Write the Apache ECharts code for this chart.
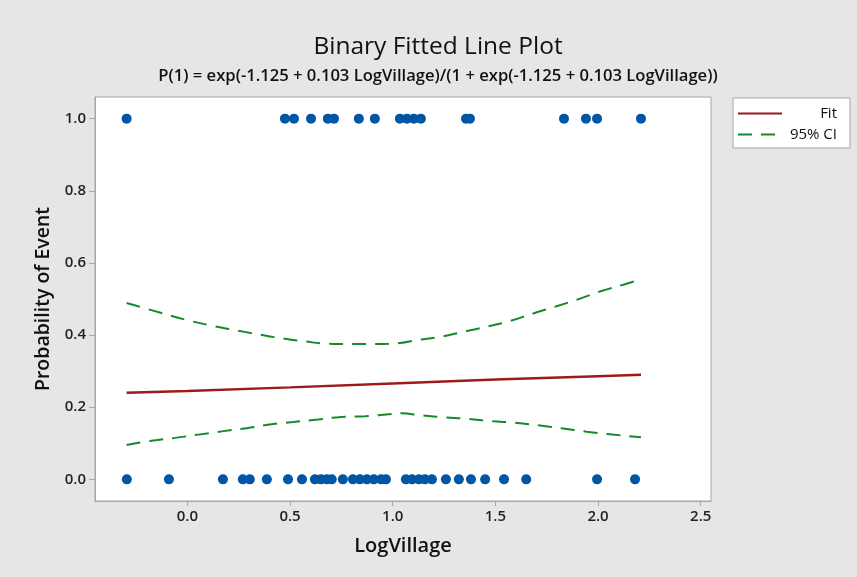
<!DOCTYPE html>
<html>
<head>
<meta charset="utf-8">
<script src="https://cdn.jsdelivr.net/npm/echarts@6/dist/echarts.min.js"></script>
<style>
html,body{margin:0;padding:0;background:#e6e6e6;}
#chart{width:857px;height:577px;}
</style>
</head>
<body>
<div id="chart"></div>
<script>
// LogVillage values of observations with event = 1
var eventX = [-0.296, 0.475, 0.519, 0.602, 0.684, 0.714, 0.835, 0.913, 1.035, 1.069, 1.103, 1.137, 1.357, 1.376, 1.834, 1.941, 1.995, 2.209];
// LogVillage values of observations with event = 0
var nonEventX = [-0.295, -0.090, 0.173, 0.270, 0.304, 0.387, 0.490, 0.558, 0.621, 0.650, 0.679, 0.703, 0.757, 0.806, 0.840, 0.874, 0.908, 0.943, 0.967, 1.064, 1.094, 1.128, 1.157, 1.191, 1.259, 1.322, 1.381, 1.450, 1.542, 1.650, 1.995, 2.180];
// Fitted line
var fitX = [-0.296, 0.0, 0.5, 1.0, 1.5, 2.0, 2.209];
var fitY = [0.240, 0.245, 0.255, 0.266, 0.277, 0.286, 0.290];
// 95% CI upper
var ciUpX = [-0.296, -0.126, -0.012, 0.11, 0.22, 0.337, 0.45, 0.564, 0.686, 0.80, 0.913, 1.035, 1.116, 1.23, 1.343, 1.457, 1.571, 1.684, 1.798, 1.912, 2.017, 2.131, 2.209];
var ciUpY = [0.489, 0.461, 0.443, 0.427, 0.415, 0.403, 0.392, 0.383, 0.376, 0.375, 0.375, 0.378, 0.386, 0.395, 0.409, 0.423, 0.439, 0.460, 0.480, 0.501, 0.522, 0.541, 0.555];
// 95% CI lower
var ciLoX = [-0.296, -0.174, -0.06, 0.053, 0.167, 0.288, 0.40, 0.515, 0.637, 0.751, 0.865, 0.995, 1.043, 1.132, 1.246, 1.36, 1.482, 1.595, 1.717, 1.830, 1.944, 2.058, 2.18, 2.209];
var ciLoY = [0.095, 0.107, 0.115, 0.124, 0.133, 0.142, 0.152, 0.159, 0.166, 0.173, 0.175, 0.181, 0.183, 0.178, 0.172, 0.168, 0.161, 0.157, 0.149, 0.141, 0.132, 0.125, 0.118, 0.117];
// Tick labels
var xTicks = [0.0, 0.5, 1.0, 1.5, 2.0, 2.5];
var yTicks = [0.0, 0.2, 0.4, 0.6, 0.8, 1.0];

function zip(a, b) { return a.map(function (v, i) { return [v, b[i]]; }); }

var FONT = '"Open Sans", "Noto Sans", sans-serif';
var chart = echarts.init(document.getElementById('chart'), null, {renderer: 'canvas'});
chart.setOption({
  backgroundColor: '#e6e6e6',
  animation: false,
  graphic: [
    {type: 'text', x: 438, y: 35, style: {text: 'Binary Fitted Line Plot', align: 'center', font: '400 24.5px ' + FONT, fill: '#111'}},
    {type: 'text', x: 438, y: 68, style: {text: 'P(1) = exp(-1.125 + 0.103 LogVillage)/(1 + exp(-1.125 + 0.103 LogVillage))', align: 'center', font: '600 16.6px ' + FONT, fill: '#111'}}
  ],
  grid: {left: 95, top: 97, right: 146, bottom: 76, show: true, backgroundColor: '#ffffff', borderColor: '#a6a6a6', borderWidth: 1},
  legend: {
    orient: 'vertical', left: 733, top: 98,
    data: ['Fit', '95% CI'],
    backgroundColor: '#ffffff', borderColor: '#a6a6a6', borderWidth: 1,
    padding: [8, 13, 6, 4],
    itemWidth: 44, itemHeight: 14, itemGap: 6,
    formatter: function (n) { return '{r|' + n + '}'; },
    textStyle: {color: '#111', fontSize: 15, lineHeight: 14, fontFamily: FONT, rich: {r: {width: 50, align: 'right', fontSize: 15, lineHeight: 14, fontFamily: FONT, color: '#111'}}}
  },
  xAxis: {
    type: 'value', min: -0.45, max: 2.55,
    name: 'LogVillage', nameLocation: 'middle', nameGap: 35,
    nameTextStyle: {fontSize: 20, fontWeight: 600, color: '#111', fontFamily: FONT},
    axisLine: {show: true, onZero: false, lineStyle: {color: '#a6a6a6'}},
    axisTick: {show: true, length: 5, customValues: xTicks, lineStyle: {color: '#a6a6a6'}},
    axisLabel: {customValues: xTicks, margin: 8, fontSize: 15, fontWeight: 600, color: '#222', fontFamily: FONT, formatter: function (v) { return v.toFixed(1); }},
    splitLine: {show: false}
  },
  yAxis: {
    type: 'value', min: -0.06, max: 1.06,
    name: 'Probability of Event', nameLocation: 'middle', nameGap: 42, nameRotate: 90,
    nameTextStyle: {fontSize: 19.5, fontWeight: 600, color: '#111', fontFamily: FONT},
    axisLine: {show: true, onZero: false, lineStyle: {color: '#a6a6a6'}},
    axisTick: {show: true, length: 6, customValues: yTicks, lineStyle: {color: '#a6a6a6'}},
    axisLabel: {customValues: yTicks, margin: 9, fontSize: 15, fontWeight: 600, color: '#222', fontFamily: FONT, formatter: function (v) { return v.toFixed(1); }},
    splitLine: {show: false}
  },
  series: [
    {type: 'scatter', name: 'Event', symbolSize: 10, itemStyle: {color: '#0055a5', opacity: 1}, data: eventX.map(function (v) { return [v, 1]; })},
    {type: 'scatter', name: 'NonEvent', symbolSize: 10, itemStyle: {color: '#0055a5', opacity: 1}, data: nonEventX.map(function (v) { return [v, 0]; })},
    {type: 'line', name: 'Fit', symbol: 'none', smooth: false, lineStyle: {color: '#9c1a1a', width: 2.5}, itemStyle: {color: '#9c1a1a', opacity: 0}, data: zip(fitX, fitY)},
    {type: 'line', name: '95% CI', symbol: 'none', smooth: true, lineStyle: {color: '#138a2c', width: 2, type: [14, 9]}, itemStyle: {color: '#138a2c', opacity: 0}, data: zip(ciUpX, ciUpY)},
    {type: 'line', name: '95% CI', symbol: 'none', smooth: true, lineStyle: {color: '#138a2c', width: 2, type: [14, 9]}, itemStyle: {color: '#138a2c', opacity: 0}, data: zip(ciLoX, ciLoY)}
  ]
});
</script>
</body>
</html>
